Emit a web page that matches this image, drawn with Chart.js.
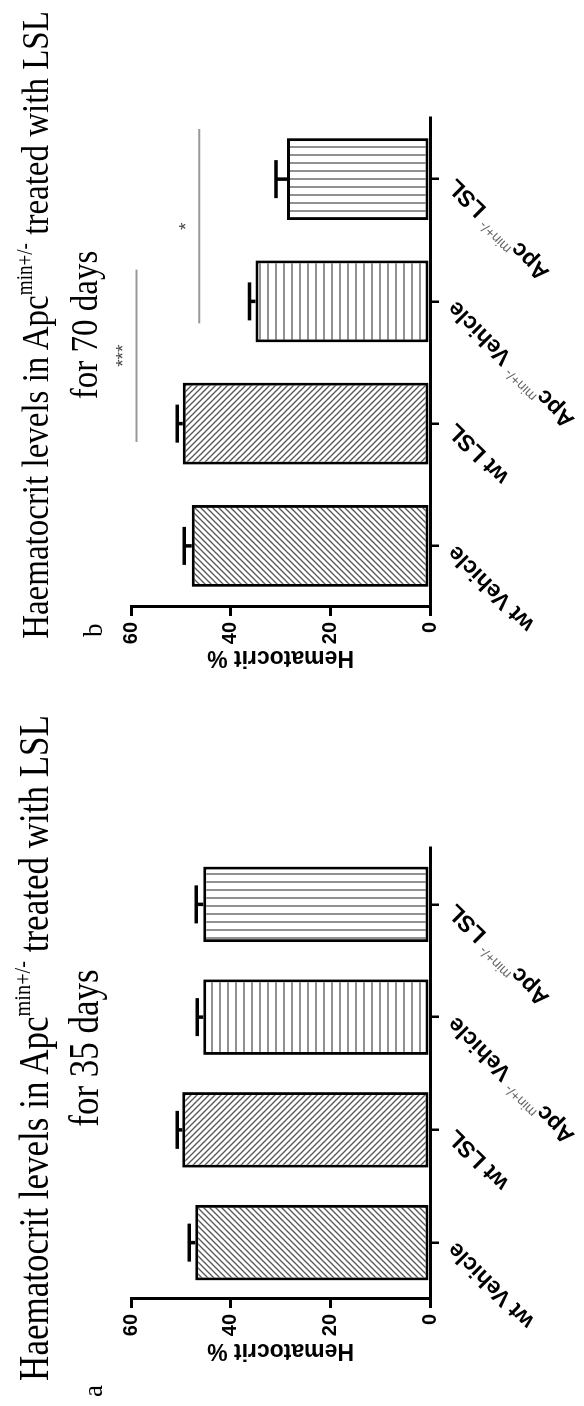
<!DOCTYPE html>
<html>
<head>
<meta charset="utf-8">
<script src="https://cdn.jsdelivr.net/npm/chart.js@4.4.0/dist/chart.umd.min.js"></script>
<style>
  html, body { margin: 0; padding: 0; background: #fff; }
  body { width: 584px; height: 1406px; overflow: hidden; position: relative; }
  /* the figure is laid out upright (1406 wide) and turned a quarter turn left */
  #sheet { position: absolute; left: 0; top: 0; width: 1406px; height: 584px;
           transform-origin: 0 0; transform: translate(0, 1406px) rotate(-90deg); }
  .panel { position: absolute; top: 0; width: 703px; height: 584px; }
  .panel canvas { position: absolute; left: 0; top: 0; }
  .title { position: absolute; width: 800px; text-align: center; white-space: nowrap;
           font-family: "Liberation Serif", "Times New Roman", serif; font-size: 33px; line-height: 1; color: #000;
           transform-origin: 50% 80%; transform: scaleY(1.18); }
  .title.wide { font-size: 35px; }
  .title sup { font-size: 58%; vertical-align: 0; position: relative; top: -0.75em; }
  .letter { position: absolute; font-family: "Liberation Serif", serif; font-size: 27px; line-height: 1; color: #000; }
</style>
</head>
<body>
<div id="sheet">
  <div class="panel" style="left:0">
    <canvas id="day35" width="703" height="584"></canvas>
    <div class="title wide" style="left:-42px; top:19px">Haematocrit levels in Apc<sup>min+/-</sup> treated with LSL</div>
    <div class="title wide" style="left:-42px; top:69px">for 35 days</div>
    <div class="letter" style="left:9px; top:80px">a</div>
  </div>
  <div class="panel" style="left:703px">
    <canvas id="day70" width="703" height="584"></canvas>
    <div class="title" style="left:-22px; top:21px">Haematocrit levels in Apc<sup>min+/-</sup> treated with LSL</div>
    <div class="title" style="left:-22px; top:70px">for 70 days</div>
    <div class="letter" style="left:66px; top:80px">b</div>
  </div>
</div>
<script>
const groupLabels = ["wt Vehicle", "wt LSL", "Apc^{min+/-} Vehicle", "Apc^{min+/-} LSL"];
const hatchKinds = ["slash", "backslash", "rows", "columns"];
const yTicks = [0, 20, 40, 60];

const day35Values = [47.1, 49.7, 45.5, 45.5];
const day35Sem = [1.2, 1.0, 1.2, 1.4];

const day70Values = [47.8, 49.6, 35.0, 28.7];
const day70Sem = [1.5, 1.1, 1.2, 2.2];

// significance bars for day 70: category range, height and mark
const day70Stars = [
  { from: 0.85, to: 2.26, value: 58.9, mark: "***" },
  { from: 1.82, to: 3.41, value: 46.3, mark: "*" }
];

function makeHatch(kind) {
  const c = document.createElement("canvas");
  const n = kind === "rows" || kind === "columns" ? 8 : 6;
  c.width = n; c.height = n;
  const g = c.getContext("2d");
  g.fillStyle = "#fff";
  g.fillRect(0, 0, n, n);
  g.strokeStyle = "#555";
  g.lineWidth = 1.3;
  g.beginPath();
  if (kind === "slash") {
    g.moveTo(-1, n + 1); g.lineTo(n + 1, -1);
    g.moveTo(-1, 1); g.lineTo(1, -1);
    g.moveTo(n - 1, n + 1); g.lineTo(n + 1, n - 1);
  } else if (kind === "backslash") {
    g.moveTo(-1, -1); g.lineTo(n + 1, n + 1);
    g.moveTo(n - 1, -1); g.lineTo(n + 1, 1);
    g.moveTo(-1, n - 1); g.lineTo(1, n + 1);
  } else if (kind === "rows") {
    g.moveTo(0, n / 2); g.lineTo(n, n / 2);
  } else {
    g.moveTo(n / 2, 0); g.lineTo(n / 2, n);
  }
  g.stroke();
  return g.createPattern(c, "repeat");
}

function splitLabel(text) {
  const m = text.match(/^(.*?)\^\{(.*?)\}(.*)$/);
  if (!m) return [{ t: text, sup: false }];
  return [{ t: m[1], sup: false }, { t: m[2], sup: true }, { t: m[3], sup: false }];
}

const errorBars = {
  id: "errorBars",
  afterDatasetsDraw(chart, args, opts) {
    const { ctx } = chart;
    const y = chart.scales.y;
    const values = chart.data.datasets[0].data;
    ctx.save();
    ctx.strokeStyle = "#000";
    ctx.lineWidth = 3.5;
    chart.getDatasetMeta(0).data.forEach((bar, i) => {
      const top = y.getPixelForValue(values[i] + opts.sem[i]);
      ctx.beginPath();
      ctx.moveTo(bar.x, bar.y);
      ctx.lineTo(bar.x, top);
      ctx.moveTo(bar.x - 19, top);
      ctx.lineTo(bar.x + 19, top);
      ctx.stroke();
    });
    ctx.restore();
  }
};

const slantLabels = {
  id: "slantLabels",
  afterDraw(chart) {
    const { ctx } = chart;
    const x = chart.scales.x;
    ctx.save();
    ctx.fillStyle = "#000";
    ctx.textBaseline = "middle";
    ctx.textAlign = "left";
    groupLabels.forEach((label, i) => {
      const parts = splitLabel(label);
      const fonts = parts.map(p => p.sup ? "14px 'Liberation Sans', Arial, sans-serif" : "bold 23px 'Liberation Sans', Arial, sans-serif");
      let total = 0;
      parts.forEach((p, k) => { ctx.font = fonts[k]; total += ctx.measureText(p.t).width; });
      ctx.save();
      ctx.translate(x.getPixelForTick(i) - 3, x.top + 22);
      ctx.rotate(-Math.PI / 4);
      let pos = -total;
      parts.forEach((p, k) => {
        ctx.font = fonts[k];
        ctx.fillStyle = p.sup ? "#666" : "#000";
        ctx.fillText(p.t, pos, p.sup ? -8 : 0);
        pos += ctx.measureText(p.t).width;
      });
      ctx.restore();
    });
    ctx.restore();
  }
};

const starBars = {
  id: "starBars",
  afterDraw(chart, args, opts) {
    if (!opts.items) return;
    const { ctx } = chart;
    const { x, y } = chart.scales;
    ctx.save();
    ctx.strokeStyle = "#999";
    ctx.fillStyle = "#444";
    ctx.lineWidth = 2;
    ctx.font = "19px 'Liberation Sans', Arial, sans-serif";
    ctx.textAlign = "center";
    ctx.textBaseline = "bottom";
    opts.items.forEach(s => {
      const py = y.getPixelForValue(s.value);
      const x0 = x.getPixelForValue(s.from);
      const x1 = x.getPixelForValue(s.to);
      ctx.beginPath();
      ctx.moveTo(x0, py);
      ctx.lineTo(x1, py);
      ctx.stroke();
      ctx.fillText(s.mark, (x0 + x1) / 2, py - 3);
    });
    ctx.restore();
  }
};

function drawPanel(id, values, sem, stars, frame) {
  const ctx = document.getElementById(id).getContext("2d");
  return new Chart(ctx, {
    type: "bar",
    data: {
      labels: groupLabels,
      datasets: [{
        data: values,
        backgroundColor: hatchKinds.map(makeHatch),
        borderColor: "#000",
        borderWidth: 3,
        borderSkipped: false,
        barPercentage: 0.67,
        categoryPercentage: 1
      }]
    },
    options: {
      responsive: false,
      animation: false,
      devicePixelRatio: 1,
      layout: { padding: { left: 0, right: frame.right, top: 131, bottom: 0 } },
      plugins: {
        legend: { display: false },
        tooltip: { enabled: false },
        errorBars: { sem: sem },
        starBars: { items: stars }
      },
      scales: {
        x: {
          offset: true,
          afterFit(scale) { scale.height = 154; },
          grid: { offset: false, drawOnChartArea: false, drawTicks: true, tickLength: 9, color: "#000", lineWidth: 2.5 },
          border: { color: "#000", width: 3 },
          ticks: { display: false }
        },
        y: {
          min: 0,
          max: 60,
          afterFit(scale) { scale.width = frame.yWidth; },
          afterBuildTicks(scale) { scale.ticks = yTicks.map(v => ({ value: v })); },
          grid: { drawOnChartArea: false, drawTicks: true, tickLength: 9, color: "#000", lineWidth: 3 },
          border: { color: "#000", width: 3 },
          ticks: {
            color: "#000",
            padding: 6,
            font: { family: "'Liberation Sans', Arial, sans-serif", size: 20, weight: "bold" }
          },
          title: {
            display: true,
            text: "Hematocrit %",
            color: "#000",
            padding: { top: frame.titleGap, bottom: 0 },
            font: { family: "'Liberation Sans', Arial, sans-serif", size: 23, weight: "bold" }
          }
        }
      }
    },
    plugins: [errorBars, slantLabels, starBars]
  });
}

drawPanel("day35", day35Values, day35Sem, null, { right: 145, yWidth: 107, titleGap: 42 });
drawPanel("day70", day70Values, day70Sem, day70Stars, { right: 118, yWidth: 96, titleGap: 32 });
</script>
</body>
</html>
